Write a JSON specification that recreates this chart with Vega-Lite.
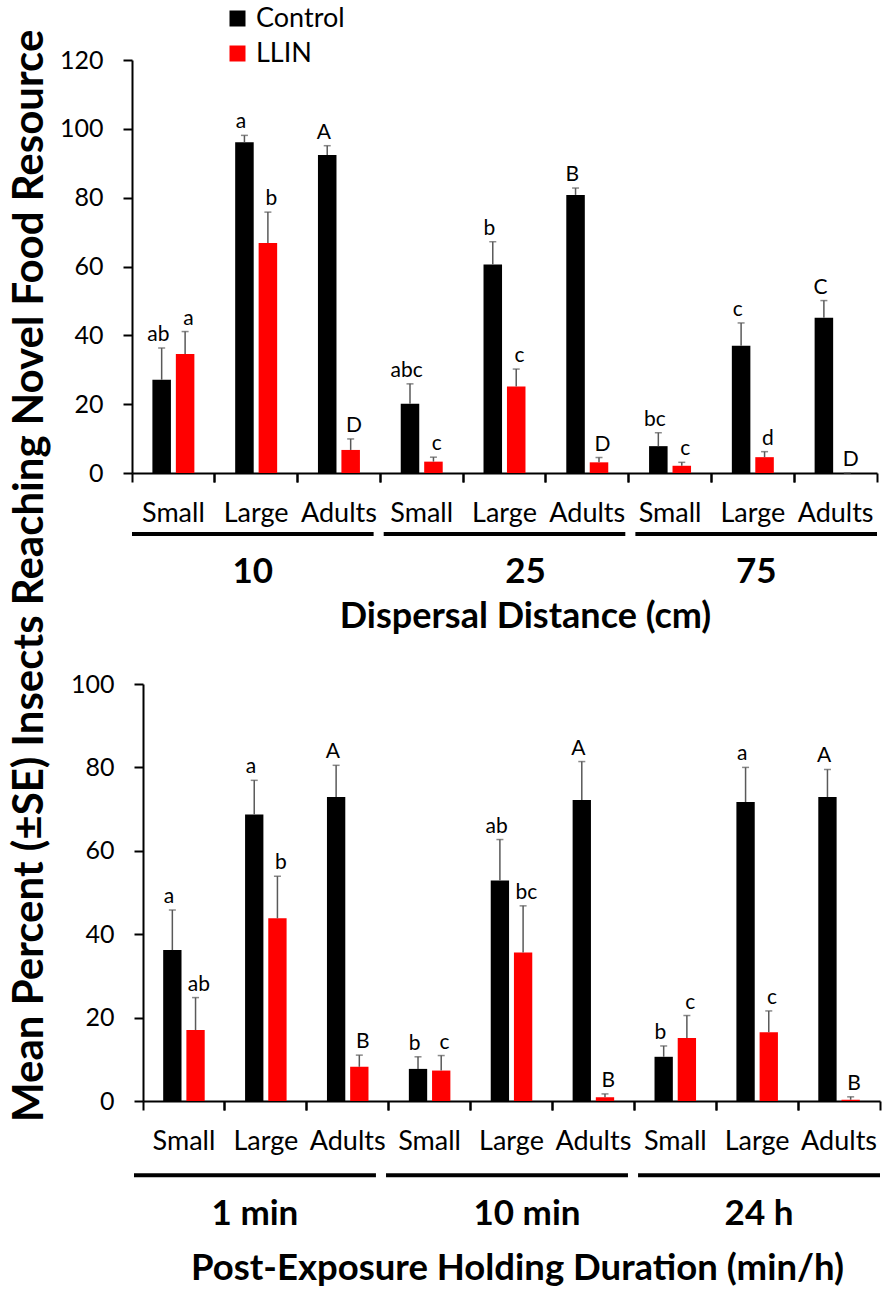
{
  "$schema": "https://vega.github.io/schema/vega-lite/v6.json",
  "padding": {"left": 9, "top": 5, "right": 2, "bottom": 5},
  "background": "white",
  "title": {"text": "Mean Percent (±SE) Insects Reaching Novel Food Resource", "orient": "left", "anchor": "middle", "font": "Lato", "fontSize": 42, "fontWeight": "bold", "color": "black", "offset": 7, "dx": 70},
  "datasets": {
    "dispersal": [
      {"cat": "10|Small", "group": "10", "stage": "Small", "treatment": "Control", "mean": 27.1, "upper": 36.3, "letter": "ab"},
      {"cat": "10|Small", "group": "10", "stage": "Small", "treatment": "LLIN", "mean": 34.6, "upper": 41.1, "letter": "a"},
      {"cat": "10|Large", "group": "10", "stage": "Large", "treatment": "Control", "mean": 96.1, "upper": 98.1, "letter": "a"},
      {"cat": "10|Large", "group": "10", "stage": "Large", "treatment": "LLIN", "mean": 66.8, "upper": 75.8, "letter": "b"},
      {"cat": "10|Adults", "group": "10", "stage": "Adults", "treatment": "Control", "mean": 92.4, "upper": 95.1, "letter": "A"},
      {"cat": "10|Adults", "group": "10", "stage": "Adults", "treatment": "LLIN", "mean": 6.7, "upper": 9.9, "letter": "D"},
      {"cat": "25|Small", "group": "25", "stage": "Small", "treatment": "Control", "mean": 20.1, "upper": 25.9, "letter": "abc"},
      {"cat": "25|Small", "group": "25", "stage": "Small", "treatment": "LLIN", "mean": 3.3, "upper": 4.6, "letter": "c"},
      {"cat": "25|Large", "group": "25", "stage": "Large", "treatment": "Control", "mean": 60.6, "upper": 67.2, "letter": "b"},
      {"cat": "25|Large", "group": "25", "stage": "Large", "treatment": "LLIN", "mean": 25.1, "upper": 30.2, "letter": "c"},
      {"cat": "25|Adults", "group": "25", "stage": "Adults", "treatment": "Control", "mean": 80.8, "upper": 82.8, "letter": "B"},
      {"cat": "25|Adults", "group": "25", "stage": "Adults", "treatment": "LLIN", "mean": 3.1, "upper": 4.5, "letter": "D"},
      {"cat": "75|Small", "group": "75", "stage": "Small", "treatment": "Control", "mean": 7.8, "upper": 11.7, "letter": "bc"},
      {"cat": "75|Small", "group": "75", "stage": "Small", "treatment": "LLIN", "mean": 2.1, "upper": 3.1, "letter": "c"},
      {"cat": "75|Large", "group": "75", "stage": "Large", "treatment": "Control", "mean": 37.0, "upper": 43.6, "letter": "c"},
      {"cat": "75|Large", "group": "75", "stage": "Large", "treatment": "LLIN", "mean": 4.6, "upper": 6.2, "letter": "d"},
      {"cat": "75|Adults", "group": "75", "stage": "Adults", "treatment": "Control", "mean": 45.1, "upper": 50.1, "letter": "C"},
      {"cat": "75|Adults", "group": "75", "stage": "Adults", "treatment": "LLIN", "mean": 0, "upper": 0, "letter": "D"}
    ],
    "holding": [
      {"cat": "1 min|Small", "group": "1 min", "stage": "Small", "treatment": "Control", "mean": 36.2, "upper": 45.8, "letter": "a"},
      {"cat": "1 min|Small", "group": "1 min", "stage": "Small", "treatment": "LLIN", "mean": 17.0, "upper": 24.8, "letter": "ab"},
      {"cat": "1 min|Large", "group": "1 min", "stage": "Large", "treatment": "Control", "mean": 68.7, "upper": 76.9, "letter": "a"},
      {"cat": "1 min|Large", "group": "1 min", "stage": "Large", "treatment": "LLIN", "mean": 43.8, "upper": 53.9, "letter": "b"},
      {"cat": "1 min|Adults", "group": "1 min", "stage": "Adults", "treatment": "Control", "mean": 72.9, "upper": 80.5, "letter": "A"},
      {"cat": "1 min|Adults", "group": "1 min", "stage": "Adults", "treatment": "LLIN", "mean": 8.2, "upper": 11.0, "letter": "B"},
      {"cat": "10 min|Small", "group": "10 min", "stage": "Small", "treatment": "Control", "mean": 7.7, "upper": 10.6, "letter": "b"},
      {"cat": "10 min|Small", "group": "10 min", "stage": "Small", "treatment": "LLIN", "mean": 7.3, "upper": 10.9, "letter": "c"},
      {"cat": "10 min|Large", "group": "10 min", "stage": "Large", "treatment": "Control", "mean": 52.9, "upper": 62.7, "letter": "ab"},
      {"cat": "10 min|Large", "group": "10 min", "stage": "Large", "treatment": "LLIN", "mean": 35.6, "upper": 46.8, "letter": "bc"},
      {"cat": "10 min|Adults", "group": "10 min", "stage": "Adults", "treatment": "Control", "mean": 72.2, "upper": 81.4, "letter": "A"},
      {"cat": "10 min|Adults", "group": "10 min", "stage": "Adults", "treatment": "LLIN", "mean": 0.9, "upper": 1.7, "letter": "B"},
      {"cat": "24 h|Small", "group": "24 h", "stage": "Small", "treatment": "Control", "mean": 10.6, "upper": 13.2, "letter": "b"},
      {"cat": "24 h|Small", "group": "24 h", "stage": "Small", "treatment": "LLIN", "mean": 15.1, "upper": 20.5, "letter": "c"},
      {"cat": "24 h|Large", "group": "24 h", "stage": "Large", "treatment": "Control", "mean": 71.7, "upper": 80.0, "letter": "a"},
      {"cat": "24 h|Large", "group": "24 h", "stage": "Large", "treatment": "LLIN", "mean": 16.5, "upper": 21.6, "letter": "c"},
      {"cat": "24 h|Adults", "group": "24 h", "stage": "Adults", "treatment": "Control", "mean": 72.9, "upper": 79.5, "letter": "A"},
      {"cat": "24 h|Adults", "group": "24 h", "stage": "Adults", "treatment": "LLIN", "mean": 0.3, "upper": 1.0, "letter": "B"}
    ],
    "groups_dispersal": [{"group": "10"}, {"group": "25"}, {"group": "75"}],
    "groups_holding": [{"group": "1 min"}, {"group": "10 min"}, {"group": "24 h"}]
  },
  "spacing": 37,
  "vconcat": [
    {
      "width": 745,
      "height": 413,
      "layer": [
        {
          "data": {"name": "dispersal"},
          "mark": {"type": "bar"},
          "encoding": {
            "x": {"field": "cat", "type": "nominal", "sort": null, "scale": {"paddingInner": 0, "paddingOuter": 0}, "axis": {"orient": "bottom", "labels": false, "ticks": true, "tickSize": 9, "bandPosition": 0, "title": null}},
            "xOffset": {"field": "treatment", "type": "nominal", "scale": {"paddingInner": 0.21, "paddingOuter": 0.87}},
            "y": {"field": "mean", "type": "quantitative", "title": null, "scale": {"domain": [0, 120], "nice": false}, "axis": {"values": [0, 20, 40, 60, 80, 100, 120], "labelPadding": 20}},
            "color": {"field": "treatment", "type": "nominal", "scale": {"domain": ["Control", "LLIN"], "range": ["#000000", "#ff0000"]}, "legend": {"title": null, "orient": "none", "legendX": 92, "legendY": -55}}
          }
        },
        {
          "data": {"name": "dispersal"},
          "mark": {"type": "rule", "color": "#595959", "strokeWidth": 1.5},
          "encoding": {
            "x": {"field": "cat", "type": "nominal", "sort": null, "scale": {"paddingInner": 0, "paddingOuter": 0}, "axis": {"orient": "bottom", "labelExpr": "split(datum.label, '|')[1]", "ticks": false, "tickSize": 0, "domain": false, "labelPadding": 48.5, "labelBaseline": "alphabetic", "labelFontSize": 27, "labelAngle": 0, "title": null}},
            "xOffset": {"field": "treatment", "type": "nominal", "scale": {"paddingInner": 0.21, "paddingOuter": 0.87}},
            "y": {"field": "mean", "type": "quantitative", "title": null},
            "y2": {"field": "upper"}
          }
        },
        {
          "data": {"name": "dispersal"},
          "mark": {"type": "tick", "color": "#595959", "thickness": 1.5, "size": 7},
          "encoding": {
            "x": {"field": "cat", "type": "nominal", "sort": null, "scale": {"paddingInner": 0, "paddingOuter": 0}, "axis": {"orient": "bottom", "labels": false, "domain": false, "ticks": true, "tickSize": 9, "bandPosition": 1, "title": null}},
            "xOffset": {"field": "treatment", "type": "nominal", "scale": {"paddingInner": 0.21, "paddingOuter": 0.87}},
            "y": {"field": "upper", "type": "quantitative", "title": null}
          }
        },
        {
          "data": {"name": "dispersal"},
          "mark": {"type": "text", "baseline": "alphabetic", "dy": -7, "fontSize": 21, "color": "black"},
          "encoding": {
            "x": {"field": "cat", "type": "nominal", "sort": null, "scale": {"paddingInner": 0, "paddingOuter": 0}, "axis": null},
            "xOffset": {"field": "treatment", "type": "nominal", "scale": {"paddingInner": 0.21, "paddingOuter": 0.87}},
            "y": {"field": "upper", "type": "quantitative", "title": null},
            "text": {"field": "letter"}
          }
        },
        {
          "data": {"name": "groups_dispersal"},
          "mark": {"type": "bar", "color": "black"},
          "encoding": {
            "x": {"field": "group", "type": "nominal", "scale": {"paddingInner": 0.04, "paddingOuter": 0}, "axis": {"orient": "bottom", "domain": false, "ticks": false, "tickSize": 0, "labelPadding": 109.5, "labelBaseline": "alphabetic", "labelFontSize": 35, "labelFontWeight": "bold", "labelAngle": 0, "labelOffset": {"condition": {"test": "datum.value === '25'", "value": 21}, "value": 0}, "title": "Dispersal Distance (cm)", "titleFontSize": 36, "titleFontWeight": "bold", "titleBaseline": "alphabetic", "titleY": 154.5, "titleX": 393}},
            "y": {"datum": -17.15, "type": "quantitative"},
            "y2": {"datum": -18.3}
          }
        }
      ],
      "resolve": {"scale": {"x": "independent", "xOffset": "independent"}, "axis": {"x": "independent"}}
    },
    {
      "width": 748,
      "height": 417,
      "layer": [
        {
          "data": {"name": "holding"},
          "mark": {"type": "bar"},
          "encoding": {
            "x": {"field": "cat", "type": "nominal", "sort": null, "scale": {"paddingInner": 0, "paddingOuter": 0, "range": [11, 748]}, "axis": {"orient": "bottom", "labels": false, "ticks": true, "tickSize": 9, "bandPosition": 0, "title": null}},
            "xOffset": {"field": "treatment", "type": "nominal", "scale": {"paddingInner": 0.21, "paddingOuter": 0.87}},
            "y": {"field": "mean", "type": "quantitative", "title": null, "scale": {"domain": [0, 100], "nice": false}, "axis": {"values": [0, 20, 40, 60, 80, 100], "labelPadding": 20, "offset": -11}},
            "color": {"field": "treatment", "type": "nominal", "scale": {"domain": ["Control", "LLIN"], "range": ["#000000", "#ff0000"]}}
          }
        },
        {
          "data": {"name": "holding"},
          "mark": {"type": "rule", "color": "#595959", "strokeWidth": 1.5},
          "encoding": {
            "x": {"field": "cat", "type": "nominal", "sort": null, "scale": {"paddingInner": 0, "paddingOuter": 0, "range": [11, 748]}, "axis": {"orient": "bottom", "labelExpr": "split(datum.label, '|')[1]", "ticks": false, "tickSize": 0, "domain": false, "labelPadding": 48, "labelBaseline": "alphabetic", "labelFontSize": 27, "labelAngle": 0, "title": null}},
            "xOffset": {"field": "treatment", "type": "nominal", "scale": {"paddingInner": 0.21, "paddingOuter": 0.87}},
            "y": {"field": "mean", "type": "quantitative", "title": null},
            "y2": {"field": "upper"}
          }
        },
        {
          "data": {"name": "holding"},
          "mark": {"type": "tick", "color": "#595959", "thickness": 1.5, "size": 7},
          "encoding": {
            "x": {"field": "cat", "type": "nominal", "sort": null, "scale": {"paddingInner": 0, "paddingOuter": 0, "range": [11, 748]}, "axis": {"orient": "bottom", "labels": false, "domain": false, "ticks": true, "tickSize": 9, "bandPosition": 1, "title": null}},
            "xOffset": {"field": "treatment", "type": "nominal", "scale": {"paddingInner": 0.21, "paddingOuter": 0.87}},
            "y": {"field": "upper", "type": "quantitative", "title": null}
          }
        },
        {
          "data": {"name": "holding"},
          "mark": {"type": "text", "baseline": "alphabetic", "dy": -7, "fontSize": 21, "color": "black"},
          "encoding": {
            "x": {"field": "cat", "type": "nominal", "sort": null, "scale": {"paddingInner": 0, "paddingOuter": 0, "range": [11, 748]}, "axis": null},
            "xOffset": {"field": "treatment", "type": "nominal", "scale": {"paddingInner": 0.21, "paddingOuter": 0.87}},
            "y": {"field": "upper", "type": "quantitative", "title": null},
            "text": {"field": "letter"}
          }
        },
        {
          "data": {"name": "groups_holding"},
          "mark": {"type": "bar", "color": "black"},
          "encoding": {
            "x": {"field": "group", "type": "nominal", "scale": {"paddingInner": 0.04, "paddingOuter": 0, "range": [2, 748]}, "axis": {"orient": "bottom", "domain": false, "ticks": false, "tickSize": 0, "labelPadding": 123, "labelBaseline": "alphabetic", "labelFontSize": 35, "labelFontWeight": "bold", "labelAngle": 0, "labelOffset": {"condition": {"test": "datum.value === '10 min'", "value": 20}, "value": 0}, "title": "Post-Exposure Holding Duration (min/h)", "titleFontSize": 36.5, "titleFontWeight": "bold", "titleBaseline": "alphabetic", "titleY": 178, "titleX": 385}},
            "y": {"datum": -17.3, "type": "quantitative"},
            "y2": {"datum": -18.26}
          }
        }
      ],
      "resolve": {"scale": {"x": "independent", "xOffset": "independent"}, "axis": {"x": "independent"}}
    }
  ],
  "config": {
    "font": "Lato",
    "view": {"stroke": null},
    "axis": {"domainColor": "black", "domainWidth": 2, "tickColor": "black", "tickWidth": 2, "labelColor": "black", "titleColor": "black", "labelFont": "Lato", "titleFont": "Lato", "grid": false},
    "axisY": {"tickSize": 9, "labelFontSize": 25},
    "legend": {"labelFont": "Lato", "labelFontSize": 27, "labelColor": "black", "symbolType": "square", "symbolSize": 256, "symbolStrokeWidth": 0, "rowPadding": 7, "labelOffset": 5, "symbolOpacity": 1}
  }
}
